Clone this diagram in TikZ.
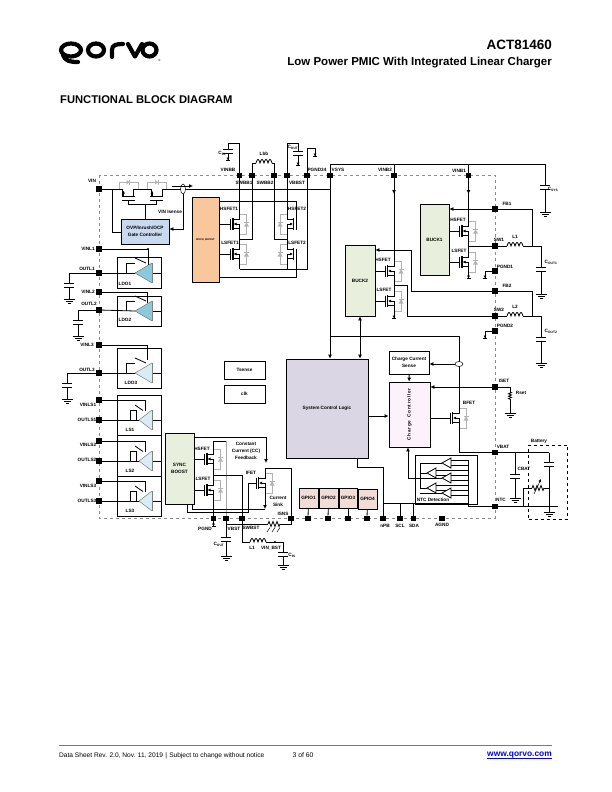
\documentclass[tikz,border=0pt]{standalone}
\usepackage{fontspec}
\setmainfont{Liberation Sans}
\usetikzlibrary{arrows.meta}
\definecolor{ovpblue}{HTML}{C9D9F0}
\definecolor{bbpeach}{HTML}{F8C79C}
\definecolor{buckgreen}{HTML}{E8EFDD}
\definecolor{logicgray}{HTML}{DAD6E4}
\definecolor{chargepink}{HTML}{FBF2FB}
\definecolor{gpiopink}{HTML}{F2DDD6}
\definecolor{ldoblue}{HTML}{8CC9DA}
\definecolor{lsblue}{HTML}{DAECF3}
\definecolor{rulecyan}{HTML}{00A3E0}
\tikzset{
    wire/.style={line width=0.8pt,black},
    graywire/.style={line width=0.7pt,black!30},
    arr/.style={-{Latex[length=4pt,width=4pt]}},
    tee/.style={-{Latex[length=2.5pt,width=3pt]Bar[width=4pt]}},
    lbl/.style={font=\fontsize{4.7}{5.5}\selectfont\bfseries,inner sep=0pt,align=center},
    block/.style={draw,line width=0.8pt,inner sep=0pt,font=\fontsize{4.7}{7}\selectfont\bfseries,align=center},
    pinbox/.style={fill=black,minimum size=5.2pt,inner sep=0pt},
    logostroke/.style={line width=4.2pt,line cap=round,line join=round},
    fet/.pic={
        \coordinate (-g) at (0,0);
        \coordinate (-d) at (9,-11);
        \coordinate (-s) at (9,11);
        \draw[graywire] (9,-10)--(16,-10)--(16,10)--(9,10);
        \fill[black!30] (13.5,2.5)--(18.5,2.5)--(16,-1.5)--cycle;
        \draw[graywire] (13.5,-2)--(18.5,-2);
        \draw[wire] (0,-5.5)--(0,5.5);
        \draw[line width=1.1pt] (2.5,-6)--(2.5,6);
        \draw[wire] (9,-11)--(9,-4.5)--(2.5,-4.5);
        \draw[wire] (9,11)--(9,4.5)--(2.5,4.5);
        \draw[wire] (9,4.5)--(9,0);
        \draw[wire,-{Latex[length=3pt,width=3pt]}] (9,0)--(3,0);
    },
    reg/.pic={
        \fill[#1] (0,0)--(17,-10)--(17,10)--cycle;
        \draw[line width=0.4pt,black!60] (0,0)--(17,-10);
        \draw[line width=0.4pt,black!60] (0,0)--(17,10);
        \draw[line width=1pt,black!50] (17,-10)--(17,10);
    },
    lsreg/.pic={
        \fill[lsblue] (0,0)--(13,-10)--(13,10)--cycle;
        \draw[line width=0.4pt,black!60] (0,0)--(13,-10);
        \draw[line width=0.4pt,black!60] (0,0)--(13,10);
        \draw[line width=1pt,black!50] (13,-10)--(13,10);
    },
    comp/.pic={
        \filldraw[wire,fill=white] (0,0)--(9,-5)--(9,5)--cycle;
    },
    capv/.pic={
        \coordinate (-a) at (0,0);
        \coordinate (-b) at (0,4);
        \draw[wire] (-5,0)--(5,0);
        \draw[wire] (-5,4)--(5,4);
    },
    gnd/.pic={
        \draw[wire] (-5.5,0)--(5.5,0);
        \draw[wire] (-3.5,2.2)--(3.5,2.2);
        \draw[wire] (-1.5,4.4)--(1.5,4.4);
    },
    ind/.pic={
        \coordinate (-a) at (0,0);
        \coordinate (-b) at (16,0);
        \draw[wire,domain=0:16,samples=49] plot(\x,{-3.5*abs(sin(\x*45))});
    },
    res/.pic={
        \coordinate (-a) at (0,0);
        \coordinate (-b) at (12,0);
        \draw[wire] (0,0)--(1,-2.5)--(3,2.5)--(5,-2.5)--(7,2.5)--(9,-2.5)--(11,2.5)--(12,0);
    },
}
\begin{document}
\begin{tikzpicture}[x=1pt,y=-1pt]
        \useasboundingbox (0,0) rectangle (612,792);

        \draw[logostroke] (71,50) ellipse (10 and 6.5);
        \draw[logostroke] (63,55) .. controls (65,61) and (70,62) .. (78,62);
        \draw[logostroke] (96,50) ellipse (8 and 6.5);
        \draw[logostroke] (112,57)--(112,50) .. controls (112,45) and (116,44) .. (123,44);
        \draw[logostroke] (128,44)--(135,56.5)--(142,44);
        \draw[logostroke] (149.5,50) ellipse (7 and 6.5);
        \node[inner sep=0pt,font=\fontsize{3}{3}\selectfont] (regmark) at (159.5,60.5) {®};
        \node[anchor=east,inner sep=0pt,font=\fontsize{13.5}{14}\selectfont\bfseries] (partno) at (552,45) {ACT81460};
        \node[anchor=east,inner sep=0pt,font=\fontsize{11.5}{13}\selectfont\bfseries] (subtitle) at (552,63) {Low Power PMIC With Integrated Linear Charger};
        \node[anchor=west,inner sep=0pt,font=\fontsize{11.2}{13}\selectfont\bfseries] (heading) at (60,100) {FUNCTIONAL BLOCK DIAGRAM};

        \draw[line width=0.9pt,rulecyan] (59,745)--(552,745);
        \node[anchor=west,inner sep=0pt,font=\fontsize{6.6}{8}\selectfont] (footleft) at (59,755.5) {Data Sheet Rev. 2.0, Nov. 11, 2019\,\,|\,\,Subject to change without notice};
        \node[inner sep=0pt,font=\fontsize{6.8}{8}\selectfont] (footpage) at (303,755) {3 of 60};
        \node[anchor=east,inner sep=0pt,font=\fontsize{8.4}{9}\selectfont\bfseries,text=blue] (footurl) at (552,755) {www.qorvo.com};
        \draw[line width=0.5pt,blue] (footurl.south west)--(footurl.south east);

        \draw[dashed,line width=0.4pt,black!45] (99,175) rectangle (495,518);

        \foreach \n/\x/\y in {vin/99/189,vinbb/239.5/175.5,swbb1/252/175.5,swbb2/274/175.5,vbbst/287/175.5,pgndtt/307/175.5,
            vsys/330/175.5,vinbtwo/394/175.5,vinbone/468.5/175.5,fbone/495/209,swone/495/246,pgndone/495/271,
            fbtwo/495/291,swtwo/495/316,pgndtwo/495/331,iset/495/387,vbat/495/452.5,ntc/495/506.5,
            vinlone/99/249,outlone/99/273,vinltwo/99/292,outltwo/99/310,vinlthree/99/345,outlthree/99/373,
            vinlsone/99/400,outlsone/99/420,vinlstwo/99/441,outlstwo/99/461,vinlsthree/99/481,outlsthree/99/501,
            pgnd/213.5/518.5,vbst/226/518.5,swbst/242/518.5,isns/291/518.5,
            pgpioa/308/518.5,pgpiob/328/518.5,pgpioc/348/518.5,pgpiod/367/518.5,
            npb/383/518.5,scl/400/518.5,sda/413.5/518.5,agnd/442/518.5}
            \node[pinbox] (\n) at (\x,\y) {};

        \node[block,fill=ovpblue,minimum width=48pt,minimum height=25pt] (ovp) at (145,231.5) {OVP/Inrush/OCP\\Gate Controller};
        \node[block,fill=bbpeach,minimum width=27pt,minimum height=85pt,font=\fontsize{2.6}{3}\selectfont\bfseries] (bb) at (205.5,239.5) {BUCK\_BOOST};
        \node[block,minimum width=44pt,minimum height=31pt] (ldoone) at (139,272.5) {};
        \node[block,minimum width=44pt,minimum height=30pt] (ldotwo) at (139,311) {};
        \node[block,minimum width=44pt,minimum height=40pt] (ldothree) at (139,368) {};
        \node[block,minimum width=44pt,minimum height=40pt] (lsone) at (139,415) {};
        \node[block,minimum width=44pt,minimum height=41pt] (lstwo) at (139,455.5) {};
        \node[block,minimum width=44pt,minimum height=40pt] (lsthree) at (139,496) {};
        \node[block,fill=buckgreen,minimum width=29pt,minimum height=71pt] (sync) at (179.5,468.5) {SYNC\\BOOST};
        \node[block,minimum width=41pt,minimum height=18pt] (tsense) at (244.5,370) {Tsense};
        \node[block,minimum width=41pt,minimum height=18pt] (clk) at (244.5,394) {clk};
        \node[block,fill=logicgray,minimum width=82pt,minimum height=99pt] (logic) at (327,408.5) {System Control Logic};
        \node[block,minimum width=40pt,minimum height=23pt] (ccs) at (409,362.5) {Charge Current\\Sense};
        \node[block,fill=chargepink,minimum width=41pt,minimum height=65pt] (cc) at (409.5,414.5) {};
        \node[lbl,rotate=90] (cctext) at (cc) {C\,h\,a\,r\,g\,e\, \,C\,o\,n\,t\,r\,o\,l\,l\,e\,r};
        \node[block,fill=buckgreen,minimum width=30pt,minimum height=71pt] (bucktwo) at (360,280.5) {BUCK2};
        \node[block,fill=buckgreen,minimum width=29pt,minimum height=71pt] (buckone) at (434.5,239.5) {BUCK1};
        \node[block,fill=gpiopink,minimum width=19pt,minimum height=20pt] (gpioa) at (308.5,498) {GPIO1};
        \node[block,fill=gpiopink,minimum width=19pt,minimum height=20pt] (gpiob) at (328.5,498) {GPIO2};
        \node[block,fill=gpiopink,minimum width=18pt,minimum height=20pt] (gpioc) at (348,498) {GPIO3};
        \node[block,fill=gpiopink,minimum width=19pt,minimum height=20pt] (gpiod) at (367.5,499) {GPIO4};
        \node[block,minimum width=62pt,minimum height=49pt] (ntcbox) at (446,479.5) {};
        \node[draw,dashed,line width=0.8pt,minimum width=39pt,minimum height=74pt,inner sep=0pt] (battery) at (548,482) {};

        \foreach \a/\b in {gpioa/pgpioa,gpiob/pgpiob,gpioc/pgpioc,gpiod/pgpiod}
            \draw[wire] (\a) -- (\b);

        \foreach \n/\x/\y in {hsa/230.5/224,lsa/230.5/254,hsc/459.5/231,lsc/459.5/262,hsd/385/271,lsd/385/301,hse/204.5/459,lse/204.5/490,ifet/256/483,bfet/450/418}
            \pic (\n) at (\x,\y) {fet};
        \foreach \n/\x/\y in {hsb/296/224,lsb/296/254}
            \pic[xscale=-1] (\n) at (\x,\y) {fet};

        \draw[wire] (vin) -- (122.5,189);
        \draw[wire] (133,189) -- (151,189);
        \draw[wire] (163,189) -- (330,189);
        \foreach \x in {122.5,151}{
            \draw[graywire] (\x-3.5,189)--(\x-3.5,182)--(\x+15.5,182)--(\x+15.5,189);
            \fill[black!30] (\x+4,180)--(\x+4,184.5)--(\x+7,182.2)--cycle;
            \draw[graywire] (\x+7.3,180)--(\x+7.3,184.5);
            \draw[wire] (\x,189)--(\x,196)--(\x+1,196);
            \draw[wire] (\x+11,189)--(\x+11,196);
            \draw[line width=1.1pt] (\x-1,196.5)--(\x+12,196.5);
            \draw[wire] (\x-1,200)--(\x+12,200);
            \draw[wire,-{Latex[length=3pt,width=3pt]}] (\x+1,196)--(\x+1,190.5);
            \draw[wire] (\x+5.5,200)--(\x+5.5,204);
        }
        \draw[wire] (128,204)--(156.5,204);
        \draw[wire] (ovp.north |- 0,204) -- (ovp.north);
        \draw[wire] (112,189)--(112,232)--(ovp.west |- 0,232);
        \draw[line width=0.5pt,fill=white] (183,189) ellipse (2.5 and 5);
        \coordinate (vinsensor) at (183,194);
        \draw[wire,arr] (vinsensor) |- (ovp.east |- 0,229);
        \draw[wire,arr] (172,186)--(193,186);

        \draw[wire] (vinbb) -- (hsa-d);
        \draw[wire] (hsa-s) -- (lsa-d);
        \draw[wire] (lsa-s) -- (239.5,269);
        \draw[wire] (vbbst) -- (hsb-d);
        \draw[wire] (hsb-s) -- (lsb-d);
        \draw[wire] (lsb-s) -- (287,269);
        \draw[wire] (239.5,269) -- (307,269) -- (pgndtt);
        \draw[wire] (swbb1) |- (239.5,239);
        \draw[wire] (swbb2) |- (287,239);
        \draw[wire] (bb.east |- hsa-g) -- (hsa-g);
        \draw[wire] (bb.east |- lsa-g) -- (lsa-g);
        \draw[wire] (bb.east |- 0,201) -| (hsb-g);
        \draw[wire] (bb.east |- 0,277) -| (lsb-g);

        \pic (capin) at (228,149) {capv};
        \draw[wire] (vinbb) |- (228,143) -- (capin-a);
        \draw[wire,tee] (capin-b) -- (228,161);
        \pic (capbb) at (298,151) {capv};
        \draw[wire] (vbbst) |- (298,143) -- (capbb-a);
        \draw[wire,tee] (capbb-b) -- (298,166);
        \pic (lbb) at (256,163) {ind};
        \draw[wire] (swbb1) |- (lbb-a);
        \draw[wire] (lbb-b) -| (swbb2);
        \draw[wire] (pgndtt) |- (315,148);
        \draw[wire,tee] (315,148) -- (315,157);

        \draw[wire] (vsys) |- (545,164);
        \draw[wire,arr] (vsys) -- (logic.north -| vsys);
        \draw[wire] (vinbtwo) -- (394,164);
        \draw[wire] (vinbone) -- (468.5,164);
        \pic (capsys) at (545,185) {capv};
        \draw[wire] (545,164) -- (capsys-a);
        \draw[wire] (capsys-b) -- (545,212);
        \pic at (545,212) {gnd};

        \draw[wire] (vinbone) -- (hsc-d);
        \draw[wire,arr] (vinbone) -- (468.5,194);
        \draw[wire] (hsc-s) -- (lsc-d);
        \draw[wire,tee] (lsc-s) -- (468.5,279);
        \draw[wire] (buckone.east |- hsc-g) -- (hsc-g);
        \draw[wire] (buckone.east |- lsc-g) -- (lsc-g);
        \draw[wire,arr] (fbone) -- (buckone.east |- fbone);
        \draw[wire] (fbone) -| (532,246);
        \draw[wire] (swone) -- (468.5,246);
        \pic (lone) at (507,246) {ind};
        \draw[wire] (swone) -- (lone-a);
        \draw[wire] (lone-b) -- (541,246);
        \pic (capoutone) at (541,267) {capv};
        \draw[wire] (541,246) -- (capoutone-a);
        \draw[wire] (capoutone-b) -- (541,294);
        \pic at (541,294) {gnd};
        \draw[wire] (pgndone) -| (485,271);
        \draw[wire,tee] (485,271) -- (485,279);

        \draw[wire] (vinbtwo) -- (hsd-d);
        \draw[wire,arr] (vinbtwo) -- (394,194);
        \draw[wire] (hsd-s) -- (lsd-d);
        \draw[wire,tee] (lsd-s) -- (394,319);
        \draw[wire] (bucktwo.east |- hsd-g) -- (hsd-g);
        \draw[wire] (bucktwo.east |- lsd-g) -- (lsd-g);
        \draw[wire,arr] (fbtwo) -- (411,291) -- (411,250) -- (bucktwo.east |- 0,250);
        \draw[wire] (fbtwo) -| (532,316);
        \draw[wire] (swtwo) -- (407,316) -- (407,285) -- (394,285);
        \pic (ltwo) at (507,316) {ind};
        \draw[wire] (swtwo) -- (ltwo-a);
        \draw[wire] (ltwo-b) -- (541,316);
        \pic (capouttwo) at (541,337) {capv};
        \draw[wire] (541,316) -- (capouttwo-a);
        \draw[wire] (capouttwo-b) -- (541,363);
        \pic at (541,363) {gnd};
        \draw[wire] (pgndtwo) -| (485,331);
        \draw[wire,tee] (485,331) -- (485,339);
        \draw[wire,{Latex[length=4pt,width=4pt]}-{Latex[length=4pt,width=4pt]}] (bucktwo.south) -- (bucktwo.south |- logic.north);

        \draw[wire] (330,336) -- (459,336) -- (bfet-d);
        \draw[wire] (bfet-s) -- (459,452.5) -- (vbat);
        \draw[line width=0.5pt,fill=white] (459,364) ellipse (4 and 2.5);
        \coordinate (batsensor) at (455,364);
        \draw[wire,arr] (batsensor) -- (ccs.east |- batsensor);
        \draw[wire] (cc.east |- bfet-g) -- (bfet-g);
        \draw[wire,arr] (ccs) -- (cc);
        \draw[wire,arr] (logic.east |- 0,416) -- (cc.west |- 0,416);
        \draw[wire,arr] (iset) -- (cc.east |- iset);
        \draw[wire] (iset) -- (510,387);
        \pic[rotate=-90,scale=.6] (rset) at (510,392) {res};
        \draw[wire] (510,387) -- (rset-a);
        \draw[wire] (rset-b) -- (510,413);
        \pic at (510,413) {gnd};

        \draw[wire] (357,458) |- (383,467) -- (npb);
        \draw[wire] (383,503.5) -- (468,503.5);
        \draw[wire] (scl) -- (400,503.5);
        \draw[wire] (sda) -- (413.5,503.5);

        \foreach \x/\y in {442/463,427/473,442/478,427/488,442/493}{
            \draw[wire] (420,\y) -- (\x,\y);
            \draw[wire] (\x+9,\y-2.5) -- (468,\y-2.5);
            \draw[wire] (\x+9,\y+2.5) -- (468,\y+2.5);
        }
        \draw[wire] (420,463) -- (420,488);
        \draw[wire] (468,460) -- (468,506.5) -- (ntc);
        \foreach \x/\y in {442/463,427/473,442/478,427/488,442/493}
            \pic at (\x,\y) {comp};
        \draw[wire,arr] (420,478) -- (408,478) -- (cc.south -| 408,0);

        \draw[wire] (vbat) -- (549,452.5);
        \pic (capcell) at (549,462) {capv};
        \draw[wire] (549,452.5) -- (capcell-a);
        \draw[wire] (capcell-b) -- (549,512);
        \pic at (549,512) {gnd};
        \draw[wire] (ntc) -- (558,506.5);
        \draw[wire] (523,506.5) -- (523,488) -- (532,488);
        \pic (therm) at (532,488) {res};
        \draw[wire] (therm-b) -- (549,488);
        \draw[line width=0.5pt,-{Latex[length=3pt,width=3pt]}] (534,494) -- (541,479);
        \pic (capbat) at (515,474) {capv};
        \draw[wire] (515,452.5) -- (capbat-a);
        \draw[wire] (capbat-b) -- (515,498);
        \pic at (515,498) {gnd};

        \draw[wire] (vinlone) -- (148,249) -- (148,265);
        \fill (148,249) circle (1.2);
        \draw[wire] (vinltwo) -- (147,292) -- (147,303);
        \draw[wire] (vinlthree) -- (147,345) -- (147,360);
        \foreach \y/\o/\a/\b/\g in {273/outlone/69/283/299,311/outltwo/78/320/336,373/outlthree/67/383/399}{
            \draw[wire] (\o) -- (135,\y);
            \draw[wire] (126,\y) -- (126,\y-10) -- (135,\y-10);
            \draw[wire] (135,\y-15) -- (146,\y-10);
            \draw[wire] (152,\y) -- (161,\y);
            \pic (cap\o) at (\a,\b) {capv};
            \draw[wire] (\o) -| (cap\o-a);
            \draw[wire] (cap\o-b) -- (\a,\g);
            \pic at (\a,\g) {gnd};
        }
        \pic at (135,273) {reg=ldoblue};
        \pic at (135,311) {reg=ldoblue};
        \pic at (135,373) {reg=lsblue};
        \foreach \v/\o/\y in {vinlsone/outlsone/420,vinlstwo/outlstwo/461,vinlsthree/outlsthree/501}{
            \draw[wire] (\v) -- (145,\y-20) -- (145,\y-9);
            \draw[wire] (\o) -- (139,\y);
            \draw[wire] (130,\y) -- (130,\y-9.5) -- (136,\y-9.5) -- (136,\y);
            \draw[wire] (135,\y-15) -- (143,\y-9.5);
            \draw[wire] (152,\y) -- (161,\y);
            \pic at (139,\y) {lsreg};
        }

        \draw[wire] (sync.east |- 0,437) -- (266,437);
        \draw[wire,arr] (266,437) -- (266,463);
        \draw[wire] (sync.east |- hse-g) -- (hse-g);
        \draw[wire] (sync.east |- lse-g) -- (lse-g);
        \draw[line width=1pt,black!35] (226,441) -- (226,516);
        \draw[wire] (213.5,441) -- (226,441);
        \draw[wire] (hse-d) -- (213.5,441);
        \draw[wire] (hse-s) -- (lse-d);
        \draw[wire] (213.5,475) -- (242,475) -- (swbst);
        \draw[wire,tee] (lse-s) -- (213.5,527);
        \draw[wire] (187,504) -- (187,512) -- (248,512) -- (248,483) -- (ifet-g);
        \draw[wire] (192,504) -- (192,509) -- (265,509);
        \draw[wire,arr] (ifet-s) -- (265,509);
        \draw[wire] (ifet-d) -- (265,468) -- (291,468) -- (isns);

        \draw[wire] (vbst) -- (226,537);
        \pic (capbst) at (226,537) {capv};
        \draw[wire] (capbst-b) -- (226,556);
        \pic at (226,556) {gnd};
        \pic (lbst) at (250,542) {ind};
        \draw[wire] (swbst) |- (lbst-a);
        \draw[wire] (lbst-b) -- (283,542) -- (283,552);
        \fill (275,542) circle (1.1);
        \pic (capvin) at (283,552) {capv};
        \draw[wire] (capvin-b) -- (283,565);
        \pic at (283,565) {gnd};
        \draw[wire] (226,524) -- (268,524);
        \pic (rsns) at (268,524) {res};
        \draw[wire] (rsns-b) -- (291,524) -- (isns);
        \foreach \x in {267,272,277}
            \draw[line width=0.5pt] (\x,532) -- (\x+3,527.5);

        \foreach \t/\x/\y [count=\i] in {VIN/92/181,VINL1/88/249,OUTL1/87/269,VINL2/88/292,OUTL2/89/304,VINL3/87/345,OUTL3/87/370,
            VINLS1/88/405,OUTLS1/87/420,VINLS2/88/445,OUTLS2/87/460,VINLS3/88/486,OUTLS3/87/501,
            LDO1/125/284,LDO2/125/320,LDO3/131/383,LS1/130/430,LS2/130/471,LS3/130/511,
            VINBB/228/170,SWBB1/244/183,SWBB2/265/183,VBBST/297/183,PGND34/317/170,VSYS/338/170,VINB2/385/170,VINB1/459/171,
            Lbb/264/154,C\textsubscript{IN}/222/153,C\textsubscript{OUT}/293/147,C\textsubscript{SYS}/553/189,
            HSFET1/229/209,LSFET1/230/243,HSFET2/297/209,LSFET2/297/243,HSFET/458/220,LSFET/459/251,HSFET/383/260,LSFET/384/290,
            HSFET/202/449,LSFET/203/479,IFET/251/473,BFET/469/403,VIN Isense/170/212,
            FB1/507/204,SW1/499/240,L1/515/237,PGND1/505/267,FB2/507/286,SW2/499/310,L2/515/307,PGND2/505/326,
            C\textsubscript{OUT1}/551/262,C\textsubscript{OUT2}/551/331,ISET/504/381,Rset/521/393,VBAT/503/447,NTC/501/500,
            Battery/539/441,CBAT/524/469,NTC Detection/433/500,nPB/385/526,SCL/400/526,SDA/414/526,AGND/442/525,
            ISNS/283/514,PGND/205/529,VBST/234/529,SWBST/251/528,L1/252/548,VIN\_BST/271/548,C\textsubscript{IN}/292/555,C\textsubscript{OUT}/219/544}
            \node[lbl] (lab\i) at (\x,\y) {\t};
        \node[lbl] (ccfeedback) at (246,450.5) {Constant\\[1.6pt]Current (CC)\\[1.6pt]Feedback};
        \node[lbl] (currentsink) at (278,501.5) {Current\\[1.6pt]Sink};
    \end{tikzpicture}
\end{document}
